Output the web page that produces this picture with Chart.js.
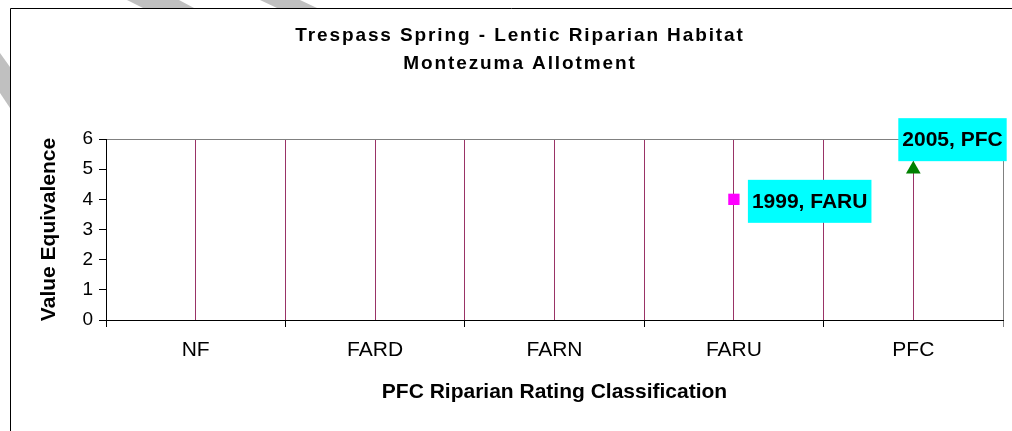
<!DOCTYPE html>
<html>
<head>
<meta charset="utf-8">
<title>Trespass Spring - Lentic Riparian Habitat</title>
<script src="https://cdn.jsdelivr.net/npm/chart.js@4.4.0/dist/chart.umd.min.js"></script>
<style>
  html, body { margin: 0; padding: 0; background: #fff; }
  canvas { display: block; }
</style>
</head>
<body>
<canvas id="ratingChart" width="1012" height="431"></canvas>
<script>
// PFC rating classes along the x axis, worst to best
const categories = ['NF', 'FARD', 'FARN', 'FARU', 'PFC'];
// one survey per year
const surveyYears = ['1999', '2005'];
const surveyRatings = ['FARU', 'PFC'];
const ratingValues = [4, 5];
const yTicks = [0, 1, 2, 3, 4, 5, 6];
const titleLines = ['Trespass Spring - Lentic Riparian Habitat', 'Montezuma Allotment'];

const FONT = "'Liberation Sans', Arial, Helvetica, sans-serif";
Chart.defaults.font.family = FONT;
Chart.defaults.color = '#000';

const pointStyles = ['rect', 'triangle'];
const pointColors = ['#FF00FF', '#008000'];
const pointSizes = [8, 8.5];

const datasets = surveyYears.map((yr, i) => ({
  label: yr,
  data: [{ x: categories.indexOf(surveyRatings[i]), y: ratingValues[i] }],
  pointStyle: pointStyles[i],
  pointRadius: pointSizes[i],
  pointHoverRadius: pointSizes[i],
  backgroundColor: pointColors[i],
  borderColor: pointColors[i],
  borderWidth: 0,
  showLine: false
}));

// page background, grey corner stripes and the outer chart frame
const frame = {
  id: 'frame',
  beforeDraw(chart) {
    const ctx = chart.ctx;
    ctx.save();
    ctx.fillStyle = '#fff';
    ctx.fillRect(0, 0, chart.width, chart.height);
    ctx.fillStyle = '#C0C0C0';
    const stripes = [
      [[127, 0], [179, 0], [194, 8], [143, 8]],
      [[260, 0], [300, 0], [317, 8], [277, 8]],
      [[0, 53], [10, 67], [10, 108], [0, 93]]
    ];
    stripes.forEach(p => {
      ctx.beginPath();
      ctx.moveTo(p[0][0], p[0][1]);
      for (let k = 1; k < p.length; k++) ctx.lineTo(p[k][0], p[k][1]);
      ctx.closePath();
      ctx.fill();
    });
    ctx.strokeStyle = '#000';
    ctx.lineWidth = 1;
    ctx.beginPath();
    ctx.moveTo(10.5, chart.height);
    ctx.lineTo(10.5, 8.5);
    ctx.lineTo(chart.width, 8.5);
    ctx.stroke();
    ctx.restore();
  }
};

// two-line heading, spaced out a little
const heading = {
  id: 'heading',
  afterDraw(chart) {
    const ctx = chart.ctx;
    ctx.save();
    ctx.font = 'bold 19px ' + FONT;
    ctx.fillStyle = '#000';
    ctx.textAlign = 'center';
    ctx.textBaseline = 'alphabetic';
    if ('letterSpacing' in ctx) ctx.letterSpacing = '1.9px';
    ctx.fillText(titleLines[0], 520, 41);
    ctx.fillText(titleLines[1], 520, 69);
    ctx.restore();
  }
};

// "year, rating" callouts on cyan boxes
const callouts = {
  id: 'callouts',
  afterDatasetsDraw(chart, args, opts) {
    const ctx = chart.ctx;
    ctx.save();
    ctx.font = 'bold 21px ' + FONT;
    ctx.textBaseline = 'middle';
    ctx.textAlign = 'center';
    chart.data.datasets.forEach((ds, i) => {
      const pt = chart.getDatasetMeta(i).data[0];
      const text = surveyYears[i] + ', ' + surveyRatings[i];
      const w = ctx.measureText(text).width + opts.padX * 2;
      const h = opts.boxHeight;
      const place = opts.place[i];
      let left, top;
      if (place.side === 'right') {
        left = pt.x + place.dx;
        top = pt.y + place.dy - h / 2;
      } else {
        left = pt.x + place.dx;
        top = pt.y + place.dy - h;
      }
      ctx.fillStyle = '#00FFFF';
      ctx.fillRect(left, top, w, h);
      ctx.fillStyle = '#000';
      ctx.fillText(text, left + w / 2, top + h / 2 + 1);
    });
    ctx.restore();
  }
};

const isWhole = v => Math.abs(v - Math.round(v)) < 1e-6;

new Chart(document.getElementById('ratingChart'), {
  type: 'scatter',
  data: { datasets },
  options: {
    responsive: false,
    animation: false,
    events: [],
    layout: { padding: { left: 10, top: 139, right: 9, bottom: 0 } },
    plugins: {
      legend: { display: false },
      tooltip: { enabled: false },
      callouts: {
        padX: 4,
        boxHeight: 43,
        place: [
          { side: 'right', dx: 14, dy: 2 },
          { side: 'above', dx: -15, dy: -8 }
        ]
      }
    },
    scales: {
      x: {
        type: 'linear',
        min: -0.5,
        max: categories.length - 0.5,
        afterFit: s => {
          s.height = 111;
          // end ticks carry no label, so no side overhang is needed
          s.paddingLeft = 0;
          s.paddingRight = 0;
        },
        ticks: {
          stepSize: 0.5,
          autoSkip: false,
          maxRotation: 0,
          padding: 11,
          font: { size: 21 },
          color: '#000',
          callback: v => isWhole(v) ? categories[Math.round(v)] : ''
        },
        grid: {
          lineWidth: 1,
          tickLength: 7,
          color: c => {
            const v = c.tick ? c.tick.value : 0;
            if (v <= -0.5) return 'rgba(0,0,0,0)';
            if (v >= categories.length - 0.5) return '#808080';
            return '#993366';
          },
          tickColor: c => {
            const v = c.tick ? c.tick.value : 0;
            if (isWhole(v)) return 'rgba(0,0,0,0)';
            if (v >= categories.length - 0.5) return '#808080';
            return '#000';
          }
        },
        border: { color: '#000', width: 1 },
        title: {
          display: true,
          text: 'PFC Riparian Rating Classification',
          font: { size: 21, weight: 'bold' },
          color: '#000',
          padding: { top: 0, bottom: 26 }
        }
      },
      y: {
        min: yTicks[0],
        max: yTicks[yTicks.length - 1],
        afterFit: s => { s.width = 96; },
        afterBuildTicks: s => { s.ticks = yTicks.map(v => ({ value: v })); },
        ticks: {
          stepSize: 1,
          padding: 6,
          font: { size: 19 },
          color: '#000'
        },
        grid: {
          lineWidth: 1,
          tickLength: 7,
          color: c => (c.tick && c.tick.value === yTicks[yTicks.length - 1]) ? '#808080' : 'rgba(0,0,0,0)',
          tickColor: '#000'
        },
        border: { color: '#000', width: 1 },
        title: {
          display: true,
          text: 'Value Equivalence',
          font: { size: 21, weight: 'bold' },
          color: '#000',
          padding: { top: 27, bottom: 0 }
        }
      }
    }
  },
  plugins: [frame, callouts, heading]
});
</script>
</body>
</html>
